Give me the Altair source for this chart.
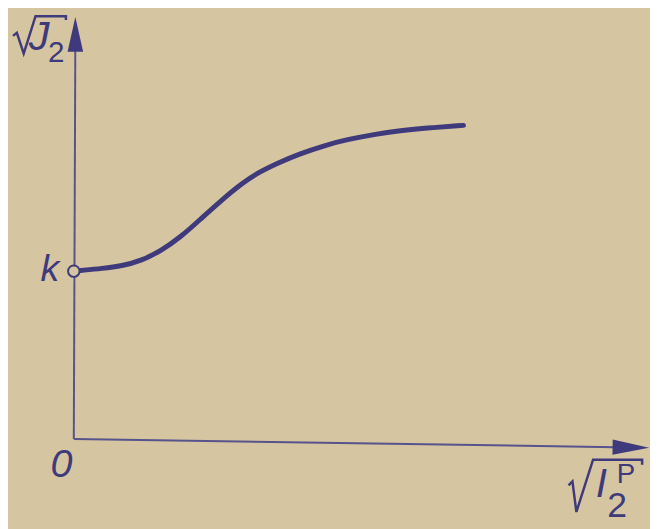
import altair as alt
import pandas as pd

# ---- data (abstract units; origin of the diagram at 0,0) ----
curve_x = [0.176, 0.730, 1.234, 1.738, 2.242, 2.746, 3.249, 3.753, 4.332, 4.761,
           5.264, 5.768, 6.448, 7.028, 7.783, 8.287, 9.043, 10.0]
curve_y = [4.307, 4.358, 4.421, 4.559, 4.811, 5.164, 5.617, 6.071, 6.549, 6.826,
           7.065, 7.280, 7.506, 7.657, 7.796, 7.872, 7.947, 8.015]
k_value = 4.29

# axes (start/end of each axis line) and arrow-head positions
axis_x0 = [0.0, 0.0]
axis_y0 = [0.0, 0.0]
axis_x1 = [0.04, 14.30]
axis_y1 = [10.25, -0.214]
arrow_names = ["up", "right"]
arrow_x = [0.04, 14.295]
arrow_y = [10.34, -0.214]

# radical signs of the axis titles
rad_group = ["top"] * 6 + ["bottom"] * 6
rad_x = [-1.56, -1.461, -1.285, -0.982, -0.202, -0.202,
         12.695, 12.796, 12.897, 13.325, 14.584, 14.584]
rad_y = [10.302, 10.378, 9.849, 10.806, 10.806, 10.705,
         -1.184, -1.083, -1.864, -0.529, -0.529, -0.655]

# labels
lab_text = ["J", "2", "k", "0", "I", "2", "P"]
lab_x = [-0.89, -0.45, -0.617, -0.315, 13.54, 13.94, 14.17]
lab_y = [10.28, 9.874, 4.307, -0.655, -1.184, -1.72, -0.93]
lab_size = [42, 30, 38, 40, 41, 36, 28]
lab_italic = [True, False, True, True, True, False, False]

# ---- styling ----
BG = "#d6c5a1"
INK = "#3f3a7c"
AXIS_INK = "#57538c"
FONT = "Liberation Sans Narrow, Liberation Sans, sans-serif"

XDOM = [-1.587, 14.786]
YDOM = [-2.217, 10.907]


def X(field, **kw):
    return alt.X(field, type="quantitative", scale=alt.Scale(domain=XDOM, nice=False, zero=False), axis=None, **kw)


def Y(field, **kw):
    return alt.Y(field, type="quantitative", scale=alt.Scale(domain=YDOM, nice=False, zero=False), axis=None, **kw)


curve_df = pd.DataFrame({"x": curve_x, "y": curve_y, "o": range(len(curve_x))})
axes_df = pd.DataFrame({"x": axis_x0, "y": axis_y0, "x2": axis_x1, "y2": axis_y1})
arrow_df = pd.DataFrame({"name": arrow_names, "x": arrow_x, "y": arrow_y})
rad_df = pd.DataFrame({"g": rad_group, "x": rad_x, "y": rad_y, "o": list(range(len(rad_x)))})
lab_df = pd.DataFrame({"t": lab_text, "x": lab_x, "y": lab_y, "s": lab_size, "it": lab_italic})
k_df = pd.DataFrame({"x": [0.0], "y": [k_value]})

axes = alt.Chart(axes_df).mark_rule(color=AXIS_INK, strokeWidth=2).encode(
    x=X("x"), y=Y("y"), x2="x2", y2="y2")

arrow_up = alt.Chart(arrow_df[arrow_df.name == "up"]).mark_point(
    shape="M0,-1L0.45,1L-0.45,1Z", size=1225, filled=True, fill=INK, opacity=1, strokeWidth=0
).encode(x=X("x"), y=Y("y"))

arrow_right = alt.Chart(arrow_df[arrow_df.name == "right"]).mark_point(
    shape="M1,0L-1,0.42L-1,-0.42Z", size=1369, filled=True, fill=INK, opacity=1, strokeWidth=0,
    angle=0.9
).encode(x=X("x"), y=Y("y"))

curve = alt.Chart(curve_df).mark_line(color=INK, strokeWidth=5, interpolate="basis",
                                     strokeCap="round").encode(
    x=X("x"), y=Y("y"), order="o:Q")

kpoint = alt.Chart(k_df).mark_point(shape="circle", size=135, filled=False, color=INK,
                                    fill=BG, fillOpacity=1, opacity=1, strokeWidth=2).encode(
    x=X("x"), y=Y("y"))

radicals = alt.Chart(rad_df).mark_line(color=INK, strokeWidth=2.5, strokeJoin="miter").encode(
    x=X("x"), y=Y("y"), detail="g:N", order="o:Q")

labels_it = alt.Chart(lab_df[lab_df.it]).mark_text(
    color=INK, font=FONT, align="center", baseline="middle", fontStyle="italic").encode(
    x=X("x"), y=Y("y"), text="t:N",
    size=alt.Size("s:Q", scale=None, legend=None))

labels_up = alt.Chart(lab_df[~lab_df.it]).mark_text(
    color=INK, font=FONT, align="center", baseline="middle").encode(
    x=X("x"), y=Y("y"), text="t:N",
    size=alt.Size("s:Q", scale=None, legend=None))

chart = alt.layer(axes, curve, kpoint, arrow_up, arrow_right, radicals, labels_it, labels_up).properties(
    width=650, height=521, padding=0,
    autosize=alt.AutoSizeParams(type="fit", contains="padding"),
    background=BG,
).configure_view(stroke=None)

chart.save("out.html", embed_options={"renderer": "svg", "actions": False})
